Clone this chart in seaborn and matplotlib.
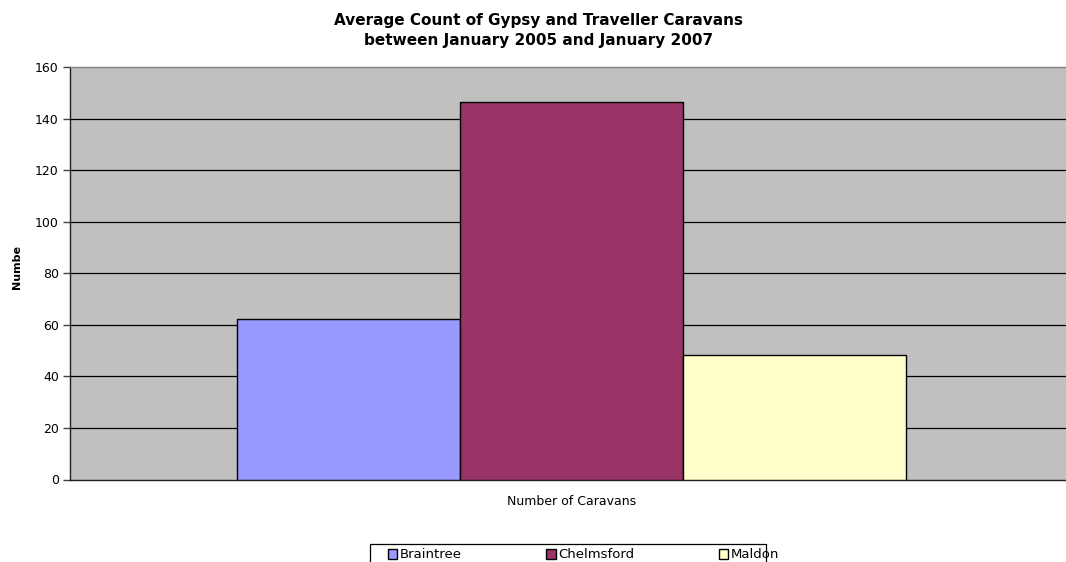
import matplotlib
matplotlib.use("Agg")
import matplotlib.pyplot as plt
from matplotlib.patches import Patch, Rectangle
import seaborn as sns
import pandas as pd

# Average caravan counts per district
districts = ["Braintree", "Chelmsford", "Maldon"]
counts = [62.1, 146.3, 48.4]
category = ["Number of Caravans"] * len(districts)
colors = ["#9999FF", "#993366", "#FFFFCC"]
y_ticks = [0, 20, 40, 60, 80, 100, 120, 140, 160]

df = pd.DataFrame({"category": category, "district": districts, "count": counts})

sns.set_theme(style="white")
plt.rcParams["font.family"] = ["DejaVu Sans"]
plt.rcParams["text.color"] = "black"

W, H = 1066, 562
fig = plt.figure(figsize=(W / 100, H / 100), dpi=100)
fig.patch.set_facecolor("white")

left, right, top, bottom = 70, 1073.5, 67, 479.5
ax = fig.add_axes([left / W, 1 - bottom / H, (right - left) / W, (bottom - top) / H])
ax.set_facecolor("#C0C0C0")

sns.barplot(data=df, x="category", y="count", hue="district",
            palette=colors, hue_order=districts, width=1.0,
            edgecolor="black", linewidth=1.0, saturation=1.0,
            legend=False, ax=ax, zorder=3)

ax.set_xlim(-0.75, 0.75)
ax.set_ylim(0, 160)
ax.set_yticks(y_ticks)
ax.set_yticklabels([str(v) for v in y_ticks], fontsize=9, color="black")
ax.tick_params(axis="y", which="both", direction="out", length=5, width=1,
               color="#404040", pad=3, left=True)
ax.tick_params(axis="x", length=0, pad=11, labelsize=9, colors="black")
ax.set_xlabel("")
ax.set_ylabel("")

# Horizontal gridlines
for v in y_ticks[1:-1]:
    ax.axhline(v, color="black", linewidth=0.9, zorder=1)

for s in ["left", "bottom"]:
    ax.spines[s].set_color("#202020")
    ax.spines[s].set_linewidth(1.0)
ax.spines["top"].set_color("#808080")
ax.spines["top"].set_linewidth(1.0)
ax.spines["right"].set_visible(False)

fig.text(539 / W, 1 - 21 / H, "Average Count of Gypsy and Traveller Caravans",
         ha="center", va="center", fontsize=11, fontweight="bold", color="black")
fig.text(539 / W, 1 - 40 / H, "between January 2005 and January 2007",
         ha="center", va="center", fontsize=11, fontweight="bold", color="black")
fig.text(17 / W, 1 - 267 / H, "Numbe", rotation=90, ha="center", va="center",
         fontsize=8, fontweight="bold", color="black")

# Legend frame
fig.patches.append(Rectangle((370 / W, -0.05), (766 - 370) / W, 0.05 + (1 - 543.5 / H),
                             transform=fig.transFigure, facecolor="white",
                             edgecolor="black", linewidth=0.9, zorder=5))

handles = [Patch(facecolor=c, edgecolor="black", linewidth=1.0) for c in colors]
leg = fig.legend(handles, districts, loc="center left",
                 bbox_to_anchor=(388 / W, 1 - 555 / H), ncol=3,
                 fontsize=9.5, frameon=False,
                 handlelength=0.7, handleheight=0.7, handletextpad=0.2,
                 columnspacing=6.4, borderpad=0, borderaxespad=0)
leg.set_zorder(6)
for t in leg.get_texts():
    t.set_color("black")

fig.savefig("out.png", dpi=100, facecolor="white")
